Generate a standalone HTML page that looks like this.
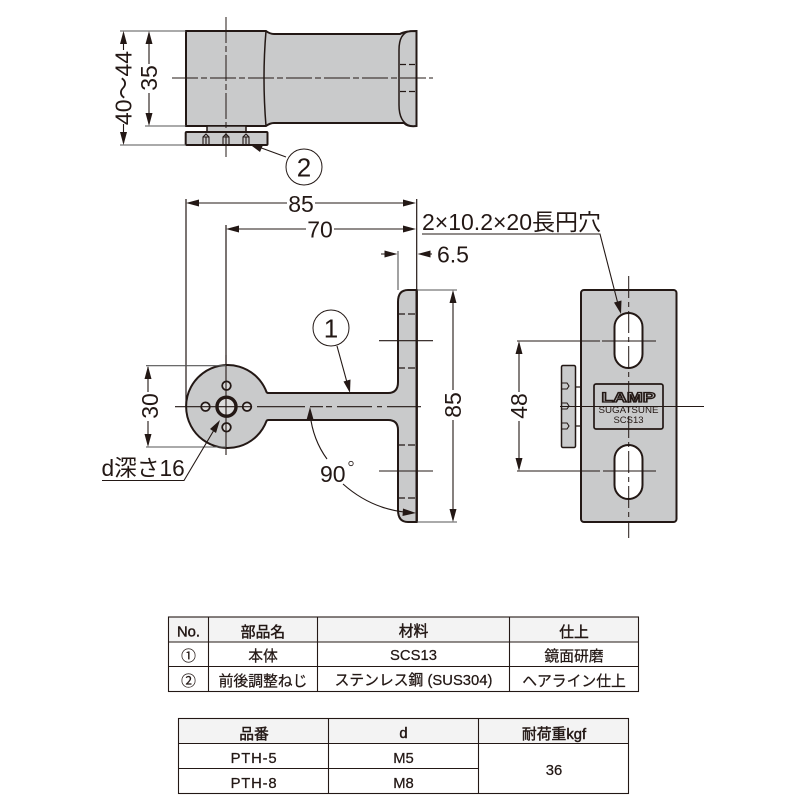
<!DOCTYPE html>
<html lang="ja"><head><meta charset="utf-8"><title>PTH</title>
<style>
html,body{margin:0;padding:0;background:#fff;width:800px;height:800px;overflow:hidden}
svg{display:block}
text{font-family:"Liberation Sans","Noto Sans CJK JP",sans-serif;fill:#231815}
.d{font-size:23px}
.t{font-size:14.800px;text-anchor:middle;stroke:#231815;stroke-width:.25}
.h{font-size:14.800px;text-anchor:middle;stroke:#231815;stroke-width:.45}
.b{fill:#c9cacb;stroke:#231815;stroke-width:2}
.l{stroke:#231815;stroke-width:1.100;fill:none}
.g{stroke:#555;stroke-width:1.100;fill:none}
.c{stroke:#231815;stroke-width:1;fill:none;stroke-dasharray:26 3 6 3}
.a{fill:#231815;stroke:none}
.tb{fill:none;stroke:#231815;stroke-width:1.100}
</style></head><body>
<svg width="800" height="800" viewBox="0 0 800 800" xmlns="http://www.w3.org/2000/svg">

<!-- top view -->
<path class="b" d="M186 31H266Q270 34 274 34H400Q405 31 416.500 31V126Q408 127 404 123H274Q270 123 266 126H186Z"/>
<path class="l" style="stroke-width:1.500" d="M266 31Q262 78 266 126M416 31H410Q399 33 399 50V105Q399 122 410 126"/>
<path class="l" style="stroke-width:1.300;stroke-dasharray:6 3" d="M400 64.500H416M400 91.500H416"/>
<path class="b" style="stroke-width:1.500" d="M207 126H246V132H207Z"/>
<rect class="b" x="185.700" y="132" width="81.800" height="13" rx="1"/>
<g class="l">
<path d="M203 144V137L206 134L209 137V144M203 137H209M206 137V144"/>
<path d="M223 144V137L226 134L229 137V144M223 137H229M226 137V144"/>
<path d="M243 144V137L246 134L249 137V144M243 137H249M246 137V144"/>
</g>
<path class="c" d="M172 78H433"/>
<path class="c" d="M226 17V160"/>
<path class="g" d="M120 31H186M145 126H186M120 145H186"/>
<path class="l" d="M149 33V64M149 93V124M123.500 33V50M123.500 124V143"/>
<path class="a" d="M149 31L145.500 44H152.500ZM149 126L145.500 113H152.500ZM123.500 31L120 44H127ZM123.500 145L120 132H127Z"/>
<text class="d" transform="translate(157,78) rotate(-90)" text-anchor="middle">35</text>
<text class="d" transform="translate(131.500,88) rotate(-90)" text-anchor="middle">40〜44</text>
<circle cx="304" cy="167" r="18" fill="#fff" stroke="#231815" stroke-width="1"/>
<text x="304" y="176.500" text-anchor="middle" style="font-size:26px">2</text>
<path class="l" d="M286 157L256 146"/>
<path class="a" d="M250 144.500L263 145L260 152Z"/>

<!-- front view -->
<path class="l" style="stroke-width:1.200" d="M186 199V406M416.700 199V290M226 225V366"/>
<path class="g" d="M398 251V290"/>
<path class="b" d="M416.700 290H408Q398 290 398 302V382Q398 393 388 393H268.500Q267 393 266.500 392A41.500 41.500 0 1 0 266.500 421Q267 420 268.500 420H388Q398 420 398 430V510Q398 522 408 522H416.700Z"/>
<path d="M416.700 290V522" stroke="#231815" stroke-width="2.400" fill="none"/>
<path class="l" style="stroke-width:1.300;stroke-dasharray:7 3" d="M398 314H416M398 368H416M398 445H416M398 498H416"/>
<circle cx="226.500" cy="385.700" r="4.300" fill="#dcdcdc" stroke="#231815" stroke-width="1.800"/>
<circle cx="226.500" cy="427.300" r="4.300" fill="#dcdcdc" stroke="#231815" stroke-width="1.800"/>
<circle cx="205.500" cy="406.700" r="4.300" fill="#dcdcdc" stroke="#231815" stroke-width="1.800"/>
<circle cx="247" cy="406.700" r="4.300" fill="#dcdcdc" stroke="#231815" stroke-width="1.800"/>
<circle cx="226.500" cy="406.700" r="9.500" fill="#dcdcdc" stroke="#231815" stroke-width="3.400"/>
<path class="l" d="M175 406.700H251M257 406.700H305M310 406.700H323M326 406.700H332M337 406.700H372M377 406.700H382M387 406.700H421"/>
<path class="l" d="M226 355V455"/>
<path class="l" d="M379 340.700H433M379 471H433"/>
<path class="g" d="M417 290H457M417 522H457M146 365.700H226M146 447H226"/>
<path class="l" d="M188 203H287M315 203H414M228 229H306M334 229H414M381 254H394M420 254H432"/>
<path class="a" d="M186 203L199 199.500V206.500ZM416 203L403 199.500V206.500ZM226 229L239 225.500V232.500ZM416 229L403 225.500V232.500ZM397.500 254L384.500 250.500V257.500ZM417.500 254L430.500 250.500V257.500Z"/>
<text class="d" x="301" y="212" text-anchor="middle">85</text>
<text class="d" x="320" y="237.500" text-anchor="middle">70</text>
<text class="d" x="437" y="262.500">6.5</text>
<path class="l" d="M453 292V390M453 420V520M148 367V392M148 421V445"/>
<path class="a" d="M453 290L449.500 303H456.500ZM453 522L449.500 509H456.500ZM148 366L144.500 379H151.500ZM148 447L144.500 434H151.500Z"/>
<text class="d" transform="translate(461,405) rotate(-90)" text-anchor="middle">85</text>
<text class="d" transform="translate(158,406) rotate(-90)" text-anchor="middle">30</text>
<circle cx="331" cy="328" r="18" fill="#fff" stroke="#231815" stroke-width="1"/>
<text x="331" y="337.500" text-anchor="middle" style="font-size:26px">1</text>
<path class="l" d="M337 346L348 386"/>
<path class="a" d="M350 393L343.500 381.500L350.500 379.500Z"/>
<text class="d" x="320" y="482">90</text>
<circle cx="351" cy="463.500" r="2.200" fill="none" stroke="#231815" stroke-width=".8"/>
<path class="l" d="M310 414Q313 440 327 459M343 484Q370 508 404 512"/>
<path class="a" d="M310 407L306.500 420L313.500 419.500ZM416 513L403 508.500L402.500 516Z"/>
<text class="d" x="101.500" y="476" style="font-size:22.700px">d深さ16</text>
<path class="l" d="M102 480.500H184L217 425"/>
<path class="a" d="M220 420L210 429L216 433Z"/>

<!-- right view -->
<rect class="b" x="581" y="290" width="95.500" height="232" rx="3"/>
<rect x="614.500" y="313" width="28" height="55" rx="14" fill="#fff" stroke="#231815" stroke-width="2"/>
<rect x="614.500" y="445" width="28" height="54" rx="14" fill="#fff" stroke="#231815" stroke-width="2"/>
<rect class="b" x="561.500" y="365.500" width="14" height="82" rx="1.500" style="stroke-width:1.500"/>
<path class="l" style="stroke-width:1.300" d="M576 387H580M576 426H580"/>
<path class="l" d="M561 383H567L569 386L567 389H561M561 403H567L569 406L567 409H561M561 423H567L569 426L567 429H561"/>
<rect class="b" x="594" y="384" width="69" height="45" rx="2" style="stroke-width:1.700"/>
<text x="628.500" y="402" text-anchor="middle" style="font-size:14px;font-weight:bold;stroke:#231815;stroke-width:1.300;fill:#c9cacb" textLength="54" lengthAdjust="spacingAndGlyphs">LAMP</text>
<text x="628.500" y="413" text-anchor="middle" style="font-size:9.500px" textLength="60" lengthAdjust="spacingAndGlyphs">SUGATSUNE</text>
<text x="628.500" y="423" text-anchor="middle" style="font-size:9.500px">SCS13</text>
<path class="l" d="M517 341H600M602 341H656M517 471H600M603 471H656"/>
<path class="l" d="M560 406.500H704"/>
<path class="c" d="M628.700 276V538" style="stroke-dasharray:22 4 5 4"/>
<path class="l" d="M519 343V392M519 421V469"/>
<path class="a" d="M519 341L515.500 354H522.500ZM519 471L515.500 458H522.500Z"/>
<text class="d" transform="translate(527,406) rotate(-90)" text-anchor="middle">48</text>
<text class="d" x="422" y="230" style="font-size:23px">2×10.2×20長円穴</text>
<path class="l" d="M422 234H600L618 304"/>
<path class="a" d="M621 314L614 302.500L621.500 300.500Z"/>

<!-- table 1 -->
<rect x="168.500" y="617" width="470" height="25" fill="#f3f3f3"/>
<rect class="tb" x="168.500" y="617" width="470" height="74.500"/>
<path class="tb" d="M168.500 642H638.500M168.500 666.500H638.500M208.500 617V691.500M317.500 617V691.500M509.500 617V691.500"/>
<text class="h" x="188.500" y="636.500">No.</text>
<text class="h" x="263" y="637">部品名</text>
<text class="h" x="413.500" y="636">材料</text>
<text class="h" x="574" y="637">仕上</text>
<text class="t" x="188.500" y="661">①</text>
<text class="t" x="263" y="661">本体</text>
<text class="t" x="413.500" y="660">SCS13</text>
<text class="t" x="574" y="661">鏡面研磨</text>
<text class="t" x="188.500" y="686">②</text>
<text class="t" x="263" y="686">前後調整ねじ</text>
<text class="t" x="413.500" y="685">ステンレス鋼 (SUS304)</text>
<text class="t" x="574" y="686">ヘアライン仕上</text>

<!-- table 2 -->
<rect x="178.500" y="718.500" width="450" height="25" fill="#f3f3f3"/>
<rect class="tb" x="178.500" y="718.500" width="450" height="75"/>
<path class="tb" d="M178.500 743.500H628.500M178.500 768.500H478.500M328.500 718.500V793.500M478.500 718.500V793.500"/>
<text class="h" x="254" y="739">品番</text>
<text class="h" x="403.500" y="738">d</text>
<text class="h" x="554" y="739">耐荷重kgf</text>
<text class="t" x="254" y="763" style="letter-spacing:.8px">PTH-5</text>
<text class="t" x="403.500" y="763">M5</text>
<text class="t" x="254" y="788" style="letter-spacing:.8px">PTH-8</text>
<text class="t" x="403.500" y="788">M8</text>
<text class="t" x="554" y="775">36</text>
</svg>
</body></html>
